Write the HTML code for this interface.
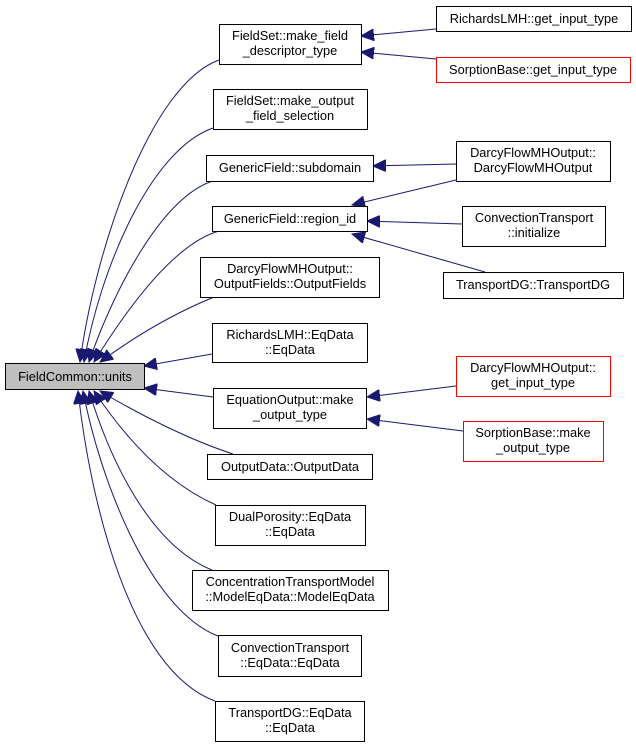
<!DOCTYPE html>
<html><head><meta charset="utf-8"><style>
html,body{margin:0;padding:0;background:#fff;width:636px;height:747px;overflow:hidden}
svg text{font-family:"Liberation Sans",sans-serif;font-size:12.8px;fill:#000}
</style></head><body>
<svg width="636" height="747" viewBox="0 0 636 747" xmlns="http://www.w3.org/2000/svg">
<defs><marker id="a" markerWidth="14" markerHeight="12" refX="13" refY="6" orient="auto" markerUnits="userSpaceOnUse"><path d="M0,0 L13,6 L0,12 z" fill="#191970" stroke="#191970"/></marker></defs>
<g fill="none" stroke="#191970" stroke-width="1" marker-end="url(#a)">
<path d="M219,60 C150,85 95,250 80,362"/>
<path d="M213,128 C150,150 100,270 84,362"/>
<path d="M216,180 C160,195 110,300 89,362"/>
<path d="M219,231 C170,245 120,320 94,362"/>
<path d="M214,297 C170,315 130,340 100,362"/>
<path d="M212,354 L144,366"/>
<path d="M213,397 L144,388"/>
<path d="M233,454 C190,440 140,415 100,391"/>
<path d="M216,505 C160,480 120,430 94,391"/>
<path d="M212,570 C150,545 110,460 89,391"/>
<path d="M218,636 C150,610 100,480 83,391"/>
<path d="M215,701 C130,670 90,500 78,391"/>
<path d="M436,29 L361,36"/>
<path d="M436,59 L361,52"/>
<path d="M456,164 L373,166"/>
<path d="M456,180 L352,205"/>
<path d="M462,224 L367,221"/>
<path d="M485,272 L352,234"/>
<path d="M456,386 L367,397"/>
<path d="M463,431 L367,419"/>
</g>
<g stroke-width="1" fill="#fff">
<rect x="5.5" y="363.5" width="139" height="26" fill="#bfbfbf" stroke="#000"/>
<rect x="219.5" y="24.5" width="142" height="40" stroke="#000"/>
<rect x="213.5" y="89.5" width="154" height="40" stroke="#000"/>
<rect x="206.5" y="155.5" width="167" height="26" stroke="#000"/>
<rect x="212.5" y="206.5" width="155" height="25" stroke="#000"/>
<rect x="200.5" y="257.5" width="179" height="40" stroke="#000"/>
<rect x="212.5" y="323.5" width="155" height="39" stroke="#000"/>
<rect x="213.5" y="388.5" width="153" height="40" stroke="#000"/>
<rect x="207.5" y="454.5" width="165" height="25" stroke="#000"/>
<rect x="215.5" y="505.5" width="150" height="40" stroke="#000"/>
<rect x="192.5" y="570.5" width="196" height="40" stroke="#000"/>
<rect x="218.5" y="635.5" width="143" height="41" stroke="#000"/>
<rect x="215.5" y="701.5" width="149" height="40" stroke="#000"/>
<rect x="436.5" y="6.5" width="195" height="25" stroke="#000"/>
<rect x="436.5" y="57.5" width="194" height="25" stroke="#ff0000"/>
<rect x="456.5" y="141.5" width="154" height="40" stroke="#000"/>
<rect x="462.5" y="206.5" width="143" height="40" stroke="#000"/>
<rect x="443.5" y="272.5" width="180" height="26" stroke="#000"/>
<rect x="456.5" y="356.5" width="154" height="40" stroke="#ff0000"/>
<rect x="463.5" y="421.5" width="140" height="40" stroke="#ff0000"/>
</g>
<g text-anchor="middle">
<text x="75" y="381">FieldCommon::units</text>
<text x="290" y="40">FieldSet::make_field</text><text x="290" y="55">_descriptor_type</text>
<text x="290" y="105">FieldSet::make_output</text><text x="290" y="120">_field_selection</text>
<text x="290" y="172">GenericField::subdomain</text>
<text x="290" y="223">GenericField::region_id</text>
<text x="290" y="273">DarcyFlowMHOutput::</text><text x="290" y="288">OutputFields::OutputFields</text>
<text x="290" y="339">RichardsLMH::EqData</text><text x="290" y="354">::EqData</text>
<text x="290" y="404">EquationOutput::make</text><text x="290" y="419">_output_type</text>
<text x="290" y="471">OutputData::OutputData</text>
<text x="290" y="521">DualPorosity::EqData</text><text x="290" y="536">::EqData</text>
<text x="290" y="586">ConcentrationTransportModel</text><text x="290" y="601">::ModelEqData::ModelEqData</text>
<text x="290" y="652">ConvectionTransport</text><text x="290" y="667">::EqData::EqData</text>
<text x="290" y="717">TransportDG::EqData</text><text x="290" y="732">::EqData</text>
<text x="534" y="23">RichardsLMH::get_input_type</text>
<text x="533" y="74">SorptionBase::get_input_type</text>
<text x="533" y="157">DarcyFlowMHOutput::</text><text x="533" y="172">DarcyFlowMHOutput</text>
<text x="534" y="222">ConvectionTransport</text><text x="534" y="237">::initialize</text>
<text x="533" y="289">TransportDG::TransportDG</text>
<text x="533" y="372">DarcyFlowMHOutput::</text><text x="533" y="387">get_input_type</text>
<text x="533" y="437">SorptionBase::make</text><text x="533" y="452">_output_type</text>
</g>
</svg>
</body></html>
